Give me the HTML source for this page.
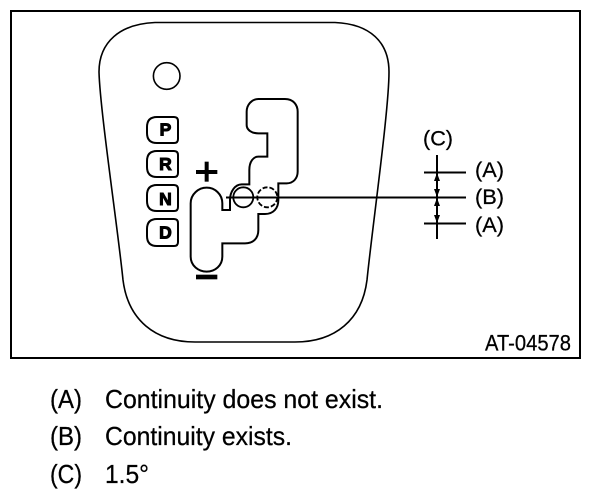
<!DOCTYPE html>
<html><head><meta charset="utf-8"><style>
html,body{margin:0;padding:0;background:#fff}
svg{display:block}
text{font-family:"Liberation Sans",sans-serif;fill:#000}
</style></head><body>
<svg width="608" height="494" viewBox="0 0 608 494" xmlns="http://www.w3.org/2000/svg">
<rect width="608" height="494" fill="#fff"/>
<rect x="11" y="11" width="569" height="347" fill="none" stroke="#000" stroke-width="2"/>
<path d="M155 22.5H335C370 24 389 42 389 72C389 110 372 230 367 280C362 320 335 342 295 342H195C155 342 128 320 123 280C118 230 100 110 99 72C99 42 120 24 155 22.5Z" fill="none" stroke="#000" stroke-width="1.6"/>
<circle cx="166.7" cy="76" r="13.3" fill="none" stroke="#000" stroke-width="1.6"/>
<g fill="none" stroke="#000" stroke-width="2">
<path d="M157 117H174Q178 117 178 121V139Q178 143 174 143H157Q147 143 147 133V127Q147 117 157 117Z"/>
<path d="M157 151H174Q178 151 178 155V173Q178 177 174 177H157Q147 177 147 167V161Q147 151 157 151Z"/>
<path d="M157 185H174Q178 185 178 189V207Q178 211 174 211H157Q147 211 147 201V195Q147 185 157 185Z"/>
<path d="M157 219H174Q178 219 178 223V242Q178 246 174 246H157Q147 246 147 236V229Q147 219 157 219Z"/>
</g>
<g font-weight="bold" font-size="17.5" text-anchor="middle" stroke="#000" stroke-width="1">
<text x="165.5" y="135.5">P</text>
<text x="165.5" y="170">R</text>
<text x="165.5" y="205">N</text>
<text x="165.5" y="238.5">D</text>
</g>
<g transform="translate(130 90) scale(.33333)">
<path d="M385 27H465C490 27 503 45 503 65V245C503 265 490 280 470 280H445V330C445 355 430 372 405 372H385V420C385 445 370 460 345 460H277V500C277 527 255 545 230 545C205 545 182 527 182 500V340C182 313 205 293 230 293C255 293 277 313 277 340V360H300V330C300 305 315 283 335 283H358V240C358 215 370 200 385 200H412V130H385C365 130 350 120 350 105V65C350 45 365 27 385 27Z" fill="none" stroke="#000" stroke-width="6"/>
<rect x="198" y="240" width="64" height="12" fill="#000"/>
<rect x="224" y="215" width="12" height="60" fill="#000"/>
<rect x="198" y="554" width="64" height="14" fill="#000"/>
</g>
<circle cx="243.3" cy="197.3" r="10" fill="none" stroke="#000" stroke-width="1.8"/>
<circle cx="267.3" cy="197.3" r="10" fill="none" stroke="#000" stroke-width="1.8" stroke-dasharray="5 2"/>
<g stroke="#000" stroke-width="2" fill="none">
<path d="M226 197.5H466"/>
<path d="M424 172.5H466"/>
<path d="M424 223.5H466"/>
<path d="M437 155V239"/>
</g>
<g fill="#000">
<path d="M437 173l-3 8h6z"/>
<path d="M437 197l-3-8h6z"/>
<path d="M437 198l-3 8h6z"/>
<path d="M437 223l-3-8h6z"/>
</g>
<g font-size="21" stroke="#000" stroke-width="0.25">
<text x="423" y="145.5" textLength="30" lengthAdjust="spacingAndGlyphs">(C)</text>
<text x="475" y="177" textLength="29" lengthAdjust="spacingAndGlyphs">(A)</text>
<text x="475" y="204" textLength="29" lengthAdjust="spacingAndGlyphs">(B)</text>
<text x="475" y="232" textLength="29" lengthAdjust="spacingAndGlyphs">(A)</text>
<text x="485" y="350.5" font-size="22" textLength="86" lengthAdjust="spacingAndGlyphs">AT-04578</text>
</g>
<g font-size="26" stroke="#000" stroke-width="0.25">
<text x="50" y="408" textLength="32" lengthAdjust="spacingAndGlyphs">(A)</text>
<text x="105" y="408" textLength="278" lengthAdjust="spacingAndGlyphs">Continuity does not exist.</text>
<text x="50" y="445" textLength="32" lengthAdjust="spacingAndGlyphs">(B)</text>
<text x="105" y="445" textLength="187" lengthAdjust="spacingAndGlyphs">Continuity exists.</text>
<text x="50" y="483" textLength="32" lengthAdjust="spacingAndGlyphs">(C)</text>
<text x="105" y="483" textLength="44" lengthAdjust="spacingAndGlyphs">1.5°</text>
</g>
</svg>
</body></html>
